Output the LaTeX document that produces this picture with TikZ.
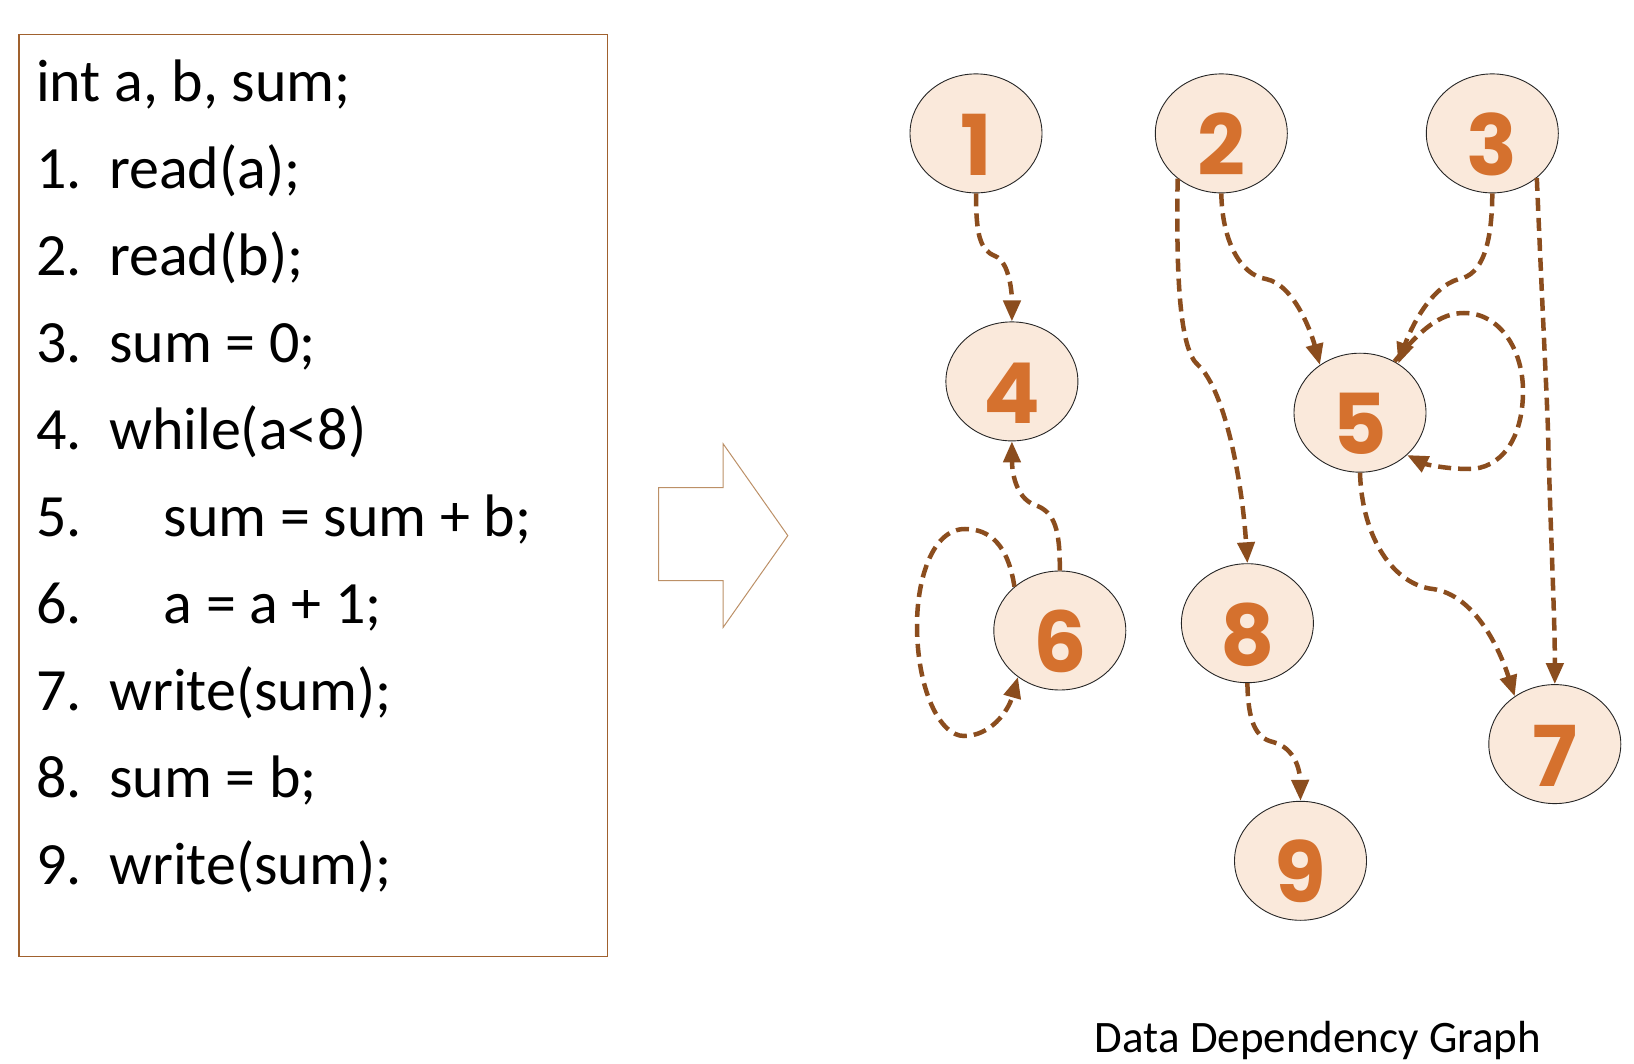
\documentclass[tikz,border=0pt]{standalone}
\usepackage{fontspec}
\setmainfont{Carlito}
\newfontfamily\numfont{Poppins}
\usetikzlibrary{shapes.geometric,arrows.meta}
\definecolor{boxbrown}{HTML}{A0612E}
\definecolor{arrowtan}{HTML}{BC9067}
\definecolor{nodefill}{HTML}{FAE9DB}
\definecolor{numorange}{HTML}{D5712E}
\definecolor{depbrown}{HTML}{8B4D1E}
\newcommand{\stmtnum}[1]{\raisebox{-0.5em}[0pt][0pt]{#1}}
\tikzset{
	stmt/.style={ellipse, draw=black!85, line width=0.9pt, fill=nodefill,
		minimum width=132pt, minimum height=119pt, inner sep=0pt,
		font=\numfont\bfseries\fontsize{84}{84}\selectfont, text=numorange},
	dep/.style={depbrown, line width=4.5pt, dash pattern=on 13pt off 7pt,
		-{Triangle[length=21pt,width=17pt]}},
	codeline/.style={anchor=base west, inner sep=0pt, font=\fontsize{60}{60}\selectfont}
}
\begin{document}
\begin{tikzpicture}[x=1pt,y=-1pt]
		\useasboundingbox (0,0) rectangle (1634,1064);

		% Программа слева
		\draw[boxbrown, line width=1.6pt] (18.8,34.4) rectangle (607.5,956.6);
		\node[codeline] (decl) at (36,102) {int a, b, sum;};
		\foreach \n/\x/\txt in {1/109/read(a);, 2/109/read(b);, 3/109/sum = 0;,
			4/109/while(a<8), 5/163.6/sum = sum + b;, 6/163.6/a = a + 1;,
			7/109/write(sum);, 8/109/sum = b;, 9/109/write(sum);} {
			\node[codeline] (num\n) at (36,{102+86.9*\n}) {\n.};
			\node[codeline] (code\n) at (\x,{102+86.9*\n}) {\txt};
		}

		% Большая стрелка
		\draw[arrowtan, line width=1pt] (658.6,487.7) -- (723.2,487.7) -- (723.2,443.9)
			-- (787.8,535.6) -- (723.2,627.3) -- (723.2,580.5) -- (658.6,580.5) -- cycle;

		% Вершины графа
		\node[stmt] (n1) at (976,133.4) {\stmtnum{1}};
		\node[stmt] (n2) at (1221.3,133.4) {\stmtnum{2}};
		\node[stmt] (n3) at (1492.3,133.4) {\stmtnum{3}};
		\node[stmt] (n4) at (1011.9,381.4) {\stmtnum{4}};
		\node[stmt] (n5) at (1360,412.7) {\stmtnum{5}};
		\node[stmt] (n6) at (1059.8,630.5) {\stmtnum{6}};
		\node[stmt] (n8) at (1247.4,623.2) {\stmtnum{8}};
		\node[stmt] (n7) at (1554.8,744.1) {\stmtnum{7}};
		\node[stmt] (n9) at (1300.5,860.8) {\stmtnum{9}};

		% Зависимости
		\draw[dep] (n1.south) .. controls (976,235) and (980,250) .. (995,256)
			.. controls (1010,262) and (1012,295) .. (n4.north);
		\draw[dep] (n6.north) .. controls (1060,530) and (1055,512) .. (1035,505)
			.. controls (1015,498) and (1012,470) .. (n4.south);
		\draw[dep] (n6.136) .. controls (1008,545) and (990,529) .. (965,529)
			.. controls (932,529) and (917,580) .. (917,625)
			.. controls (917,690) and (940,736) .. (964,736)
			.. controls (990,736) and (1008,712) .. (n6.228);
		\draw[dep] (n2.226) .. controls (1176,280) and (1180,350) .. (1198,365)
			.. controls (1225,390) and (1242,480) .. (n8.north);
		\draw[dep] (n2.south) .. controls (1222,240) and (1240,275) .. (1266,279)
			.. controls (1295,285) and (1312,335) .. (n5.130);
		\draw[dep] (n3.south) .. controls (1492,245) and (1482,275) .. (1459,279)
			.. controls (1430,287) and (1410,330) .. (n5.52);
		\draw[dep] (n5.56) .. controls (1420,330) and (1440,313) .. (1464,313)
			.. controls (1500,313) and (1523,350) .. (1523,391)
			.. controls (1523,440) and (1500,469) .. (1469,469)
			.. controls (1445,469) and (1425,464) .. (n5.-42);
		\draw[dep] (n3.-45) .. controls (1542,300) and (1547,400) .. (1548,430)
			.. controls (1550,520) and (1555,620) .. (n7.north);
		\draw[dep] (n5.south) .. controls (1362,540) and (1395,585) .. (1433,589)
			.. controls (1475,595) and (1500,650) .. (n7.130);
		\draw[dep] (n8.south) .. controls (1248,720) and (1255,738) .. (1273,742)
			.. controls (1295,748) and (1300,770) .. (n9.north);

		% Подпись
		\node[anchor=base, inner sep=0pt, font=\fontsize{45}{45}\selectfont] (caption)
			at (1318,1052) {Data Dependency Graph};
	\end{tikzpicture}
\end{document}
